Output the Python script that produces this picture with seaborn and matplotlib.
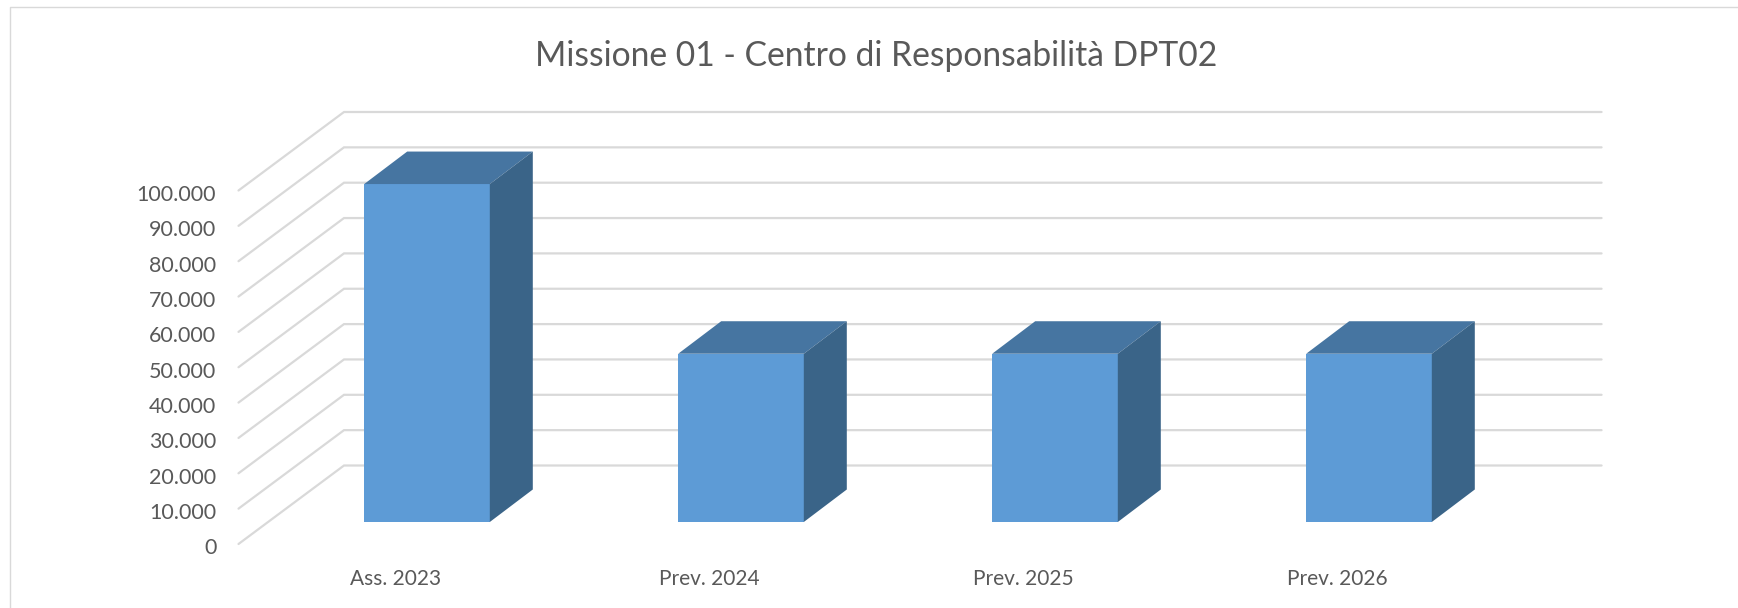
import matplotlib
matplotlib.use("Agg")
import matplotlib.pyplot as plt
import matplotlib.transforms as mtr
from matplotlib.lines import Line2D
from matplotlib.patches import Polygon
import pandas as pd
import seaborn as sns

categories = ["Ass. 2023", "Prev. 2024", "Prev. 2025", "Prev. 2026"]
values = [95600, 47600, 47600, 47600]
y_ticks = list(range(0, 100001, 10000))
y_labels = ["0"] + [f"{v // 1000}.000" for v in y_ticks[1:]]
title = "Missione 01 - Centro di Responsabilità DPT02"

FRONT, TOP, SIDE = "#5D9BD6", "#4675A1", "#3A6488"
GRID, TEXT = "#D9D9D9", "#595959"
W, H = 1738, 608

sns.set_theme(style="white")
plt.rcParams["font.family"] = ["Lato", "DejaVu Sans"]

fig = plt.figure(figsize=(W / 100, H / 100), dpi=100, facecolor="white")

# All pixel geometry measured on the full-size reference
plane_left, plane_right = 270, 1526
plane_bottom_y, plane_top_y = 522, 168.5      # y down from the top
pos = [plane_left / W, 1 - plane_bottom_y / H,
       (plane_right - plane_left) / W, (plane_bottom_y - plane_top_y) / H]
ax = fig.add_axes(pos)
df = pd.DataFrame({"cat": categories, "val": values})
sns.barplot(data=df, x="cat", y="val", order=categories, color=FRONT, saturation=1,
            width=0.4, ax=ax, linewidth=0, zorder=3)
ax.set_xlim(-0.5, 3.5)
ax.set_ylim(0, max(y_ticks))
ax.axis("off")

# Oblique planes, as pixel shifts of the bar plane
back_shift = mtr.Affine2D().translate(74, 56.5)
depth_shift = mtr.Affine2D().translate(43, 32.5)
front_shift_px = (-31.5, -22)
label_drop_px = 2.5
back_tr = ax.transData + back_shift

# Floor / wall gridlines
for v in y_ticks:
    xa = ax.transData.transform((-0.5, v))
    p_back = back_tr.transform((-0.5, v))
    p_front = (xa[0] + front_shift_px[0], xa[1] + front_shift_px[1])
    p_end = back_tr.transform((3.505, v))
    inv = fig.transFigure.inverted()
    pts = inv.transform([p_front, p_back, p_end])
    ln = Line2D(pts[:, 0], pts[:, 1], transform=fig.transFigure, color=GRID, lw=1.6,
                solid_joinstyle="miter", zorder=0.5)
    ax.add_artist(ln)
    ln.set_clip_on(False)

# 3D faces of each bar, from the bars seaborn drew
for bar in list(ax.patches):
    x0, x1 = bar.get_x(), bar.get_x() + bar.get_width()
    h = bar.get_height()
    a = ax.transData.transform([(x0, h), (x1, h), (x1, 0)])
    d = depth_shift.transform(a)
    inv = fig.transFigure.inverted()
    top = inv.transform([a[0], a[1], d[1], d[0]])
    side = inv.transform([a[1], a[2], d[2], d[1]])
    for poly, col in ((top, TOP), (side, SIDE)):
        p = Polygon(poly, closed=True, transform=fig.transFigure, facecolor=col,
                    edgecolor="none", zorder=3, clip_on=False)
        ax.add_patch(p)

# Axis labels live on the front plane
pos2 = [(plane_left + front_shift_px[0]) / W,
        1 - (plane_bottom_y - front_shift_px[1] + label_drop_px) / H,
        pos[2], pos[3]]
ax2 = fig.add_axes(pos2, facecolor="none", zorder=5)
ax2.set_xlim(-0.5, 3.5)
ax2.set_ylim(0, max(y_ticks))
ax2.set_xticks(range(len(categories)))
ax2.set_xticklabels(categories, fontsize=15, color=TEXT)
ax2.set_yticks(y_ticks)
ax2.set_yticklabels(y_labels, fontsize=15.5, color=TEXT)
ax2.tick_params(axis="y", length=0, pad=16)
ax2.tick_params(axis="x", length=0, pad=16)
ax2.grid(False)
for s in ax2.spines.values():
    s.set_visible(False)

fig.text(876 / W, 1 - 56 / H, title, fontsize=24.2, color=TEXT, ha="center", va="center")

# Chart-area border (top and left edges are visible in the crop)
fig.add_artist(Line2D([10 / W, 10 / W, 1], [0, 1 - 7 / H, 1 - 7 / H],
                      transform=fig.transFigure, color=GRID, lw=1.0))

fig.savefig("out.png", dpi=100, facecolor="white")
